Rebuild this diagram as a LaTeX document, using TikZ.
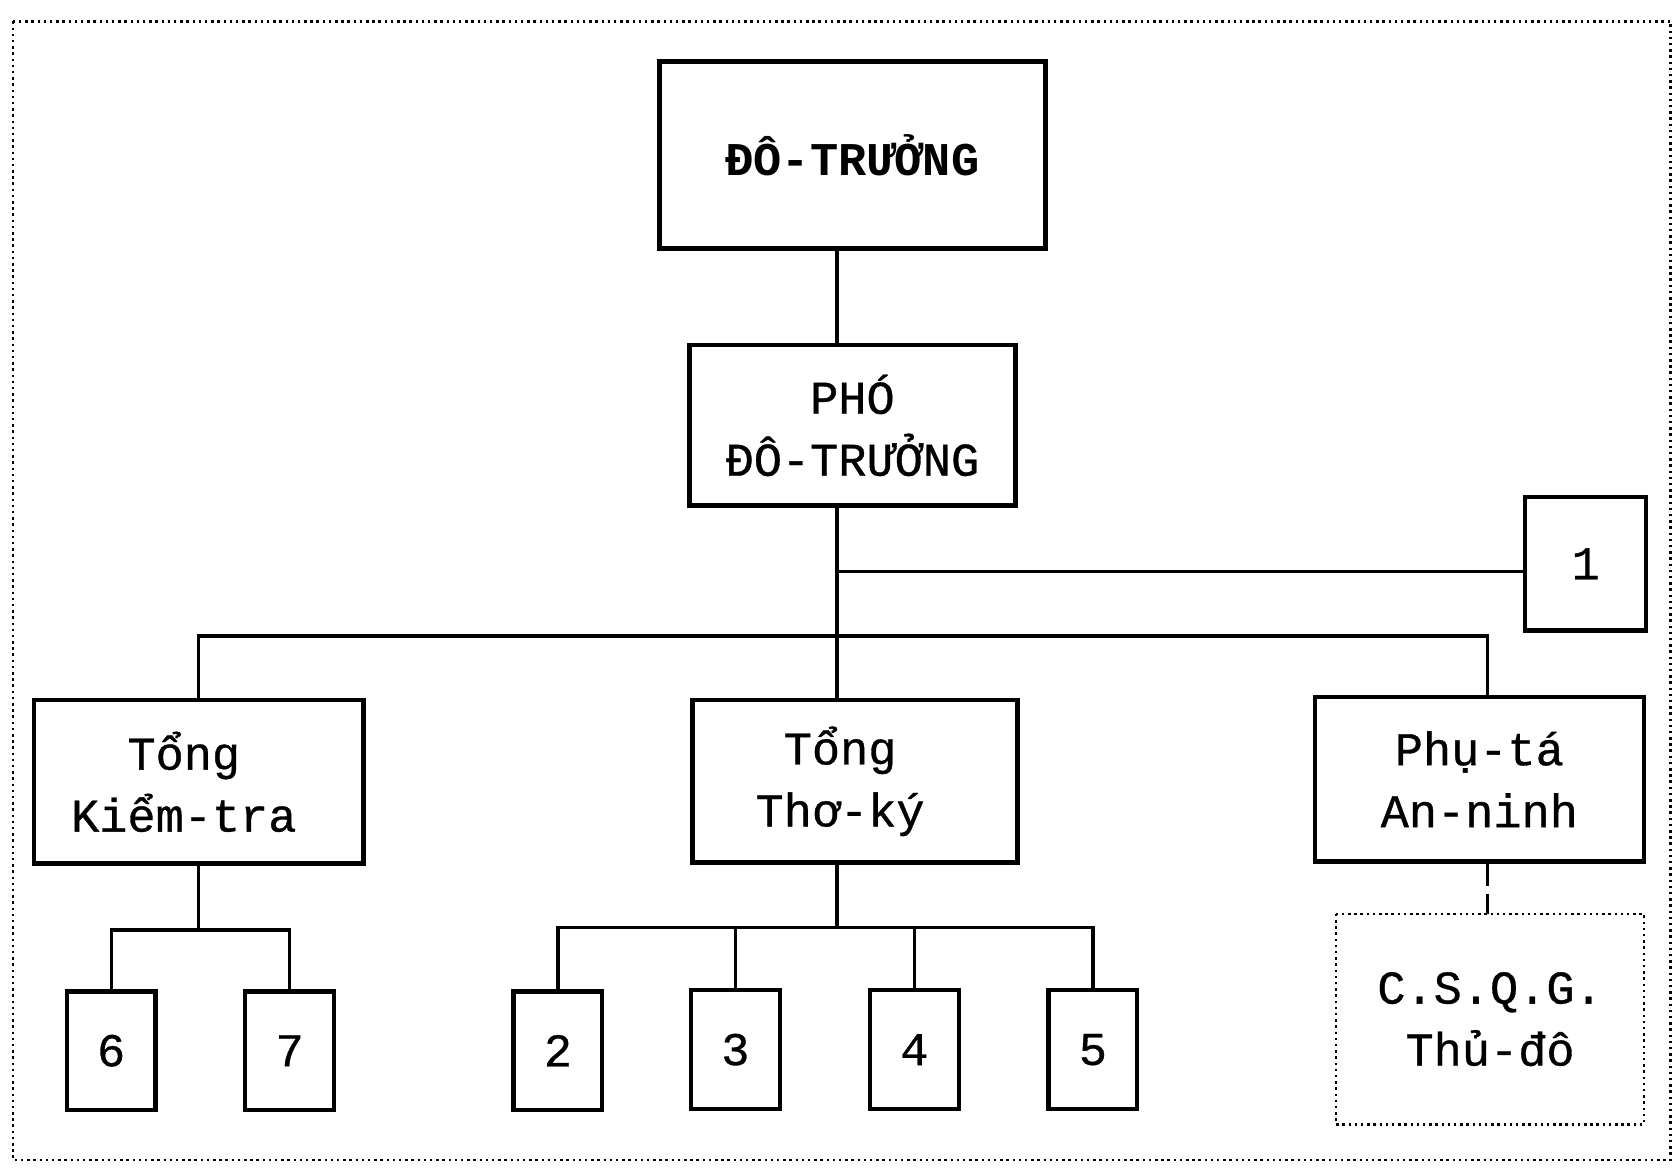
\documentclass[tikz,border=0pt]{standalone}
\usepackage{fontspec}
\setmainfont{Liberation Mono}
\newfontfamily\heavy{Liberation Mono}[FakeBold=0.7]
\begin{document}
\begin{tikzpicture}[x=0.02cm,y=-0.02cm,
  box/.style={draw,line width=2.3pt,inner sep=0pt,align=center,
    font=\fontsize{25}{33}\selectfont\heavy},
  leaf/.style={box,minimum width=83*0.02cm,minimum height=111*0.02cm},
  conn/.style={line width=1.7pt},
  frame/.style={line width=1.3pt,dotted}]
\useasboundingbox (0,0) rectangle (1568,1097);
\draw[frame] (12,20) rectangle (1563,1085);
\coordinate (spine) at (783,0);
\coordinate (ptx) at (1392,0);
\coordinate (hbar) at (0,595);
\coordinate (n1bar) at (0,535);
\coordinate (kbar) at (0,870);
\coordinate (tbar) at (0,868);

\node[box,minimum width=361*0.02cm,minimum height=175*0.02cm,font=\fontsize{25}{33}\selectfont\bfseries] (dt) at (797.5,145) {ĐÔ-TRƯỞNG};
\node[box,minimum width=305*0.02cm,minimum height=150*0.02cm] (pdt) at (797.5,398) {PHÓ\\ĐÔ-TRƯỞNG};
\node[box,minimum width=113*0.02cm,minimum height=125*0.02cm] (n1) at (1483.5,527.5) {1};
\node[box,minimum width=308*0.02cm,minimum height=153*0.02cm] (tkt) at (186,731.5) {Tổng\hspace*{16pt}\\Kiểm-tra\hspace*{16pt}};
\node[box,minimum width=304*0.02cm,minimum height=152*0.02cm] (ttk) at (800,731) {Tổng\hspace*{16pt}\\Thơ-ký\hspace*{16pt}};
\node[box,minimum width=308*0.02cm,minimum height=154*0.02cm] (pt) at (1384,729) {Phụ-tá\\An-ninh};
\node[box,draw=none,minimum width=284*0.02cm,minimum height=193*0.02cm] (cs) at (1394,953.5) {C.S.Q.G.\\Thủ-đô};
\draw[line width=1.3pt,dotted] (cs.north west) rectangle (cs.south east);

\node[leaf] (b6) at (104,983) {6};
\node[leaf] (b7) at (271,983) {7};
\node[leaf] (b2) at (522,983) {2};
\node[leaf] (b3) at (688,982) {3};
\node[leaf] (b4) at (855.5,982) {4};
\node[leaf] (b5) at (1022.5,982) {5};

% spine
\draw[conn] (dt.south -| spine) -- (pdt.north -| spine);
\draw[conn] (pdt.south -| spine) -- (ttk.north -| spine);
\draw[conn] (n1bar -| spine) -- (n1.west |- n1bar);
\draw[conn] (tkt.north) -- (tkt.north |- hbar) -- (hbar -| ptx) -- (pt.north -| ptx);
% Tong Kiem-tra children
\draw[conn] (tkt.south) -- (tkt.south |- kbar);
\draw[conn] (b6.north) -- (b6.north |- kbar) -- (b7.north |- kbar) -- (b7.north);
% Tong Tho-ky children
\draw[conn] (ttk.south -| spine) -- (tbar -| spine);
\draw[conn] (b2.north) -- (b2.north |- tbar) -- (b5.north |- tbar) -- (b5.north);
\draw[conn] (b3.north) -- (b3.north |- tbar);
\draw[conn] (b4.north) -- (b4.north |- tbar);
% Phu-ta to CSQG
\draw[conn,dashed,dash pattern=on 12pt off 4pt] (pt.south -| ptx) -- (cs.north -| ptx);
\end{tikzpicture}
\end{document}
